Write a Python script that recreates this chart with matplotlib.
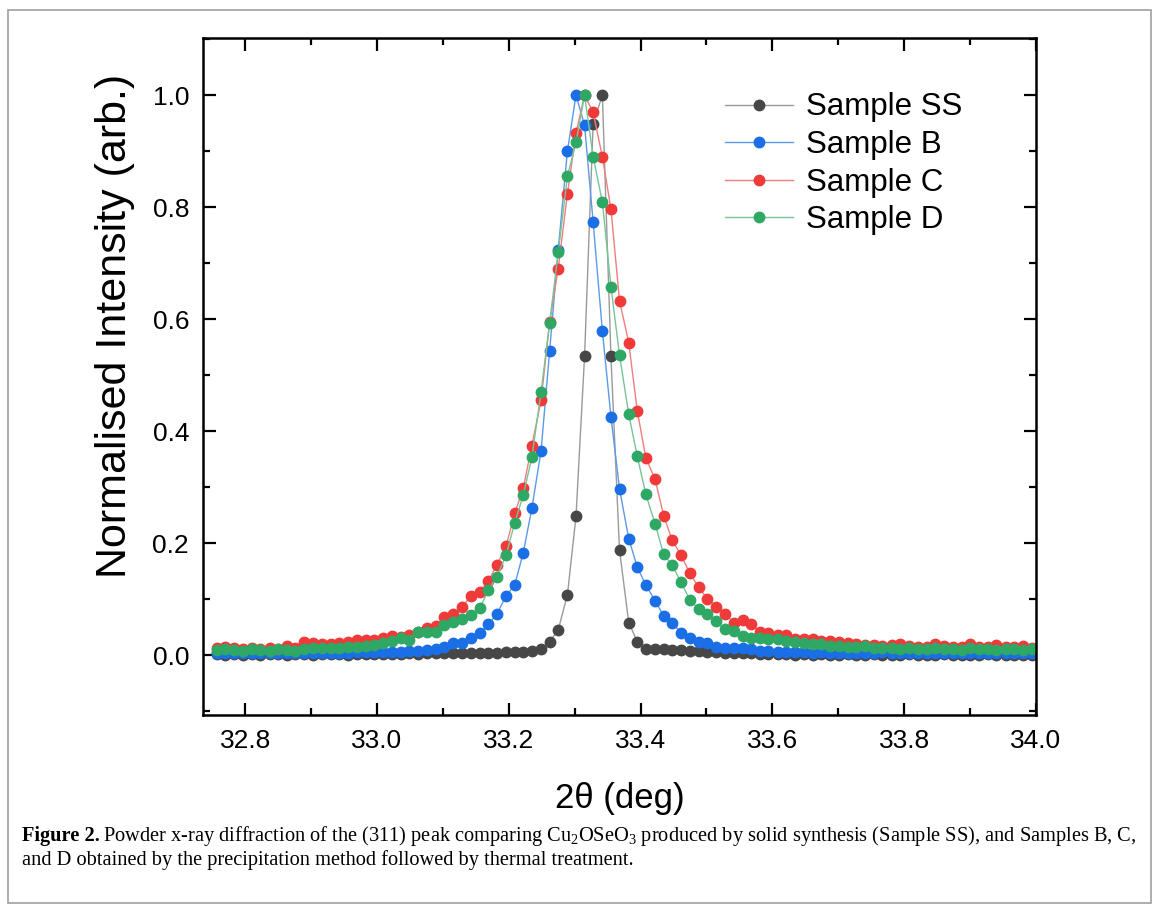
import matplotlib
matplotlib.use("Agg")
import matplotlib.pyplot as plt
from matplotlib.patches import Rectangle
from matplotlib.ticker import MultipleLocator, FormatStrFormatter

plt.rcParams['font.family'] = ['Liberation Sans', 'DejaVu Sans']
plt.rcParams['mathtext.fontset'] = 'custom'
plt.rcParams['mathtext.rm'] = 'Liberation Serif'

# 2theta grid (deg), shared by all samples
two_theta = [
    32.757, 32.770, 32.783, 32.797, 32.810, 32.823, 32.837, 32.850, 32.863, 32.876,
    32.890, 32.903, 32.916, 32.930, 32.943, 32.956, 32.970, 32.983, 32.996, 33.009,
    33.023, 33.036, 33.049, 33.063, 33.076, 33.089, 33.102, 33.116, 33.129, 33.142,
    33.156, 33.169, 33.182, 33.196, 33.209, 33.222, 33.235, 33.249, 33.262, 33.275,
    33.289, 33.302, 33.315, 33.328, 33.342, 33.355, 33.368, 33.382, 33.395, 33.408,
    33.422, 33.435, 33.448, 33.461, 33.475, 33.488, 33.501, 33.515, 33.528, 33.541,
    33.555, 33.568, 33.581, 33.594, 33.608, 33.621, 33.634, 33.648, 33.661, 33.674,
    33.688, 33.701, 33.714, 33.727, 33.741, 33.754, 33.767, 33.781, 33.794, 33.807,
    33.821, 33.834, 33.847, 33.861, 33.874, 33.887, 33.900, 33.914, 33.927, 33.940,
    33.954, 33.967, 33.980, 33.994]

sample_ss = [
    0.002, 0.001, 0.002, 0.001, 0.002, 0.001, 0.002, 0.002, 0.001, 0.002,
    0.002, 0.001, 0.002, 0.002, 0.002, 0.001, 0.002, 0.002, 0.002, 0.002,
    0.002, 0.002, 0.003, 0.002, 0.003, 0.003, 0.003, 0.003, 0.003, 0.003,
    0.004, 0.004, 0.004, 0.005, 0.005, 0.006, 0.007, 0.010, 0.024, 0.045,
    0.108, 0.248, 0.534, 0.949, 1.000, 0.534, 0.188, 0.058, 0.024, 0.011,
    0.010, 0.010, 0.009, 0.009, 0.008, 0.007, 0.006, 0.005, 0.004, 0.003,
    0.003, 0.003, 0.002, 0.002, 0.002, 0.002, 0.001, 0.002, 0.001, 0.002,
    0.001, 0.001, 0.002, 0.001, 0.001, 0.002, 0.001, 0.001, 0.001, 0.002,
    0.001, 0.001, 0.001, 0.002, 0.001, 0.001, 0.001, 0.001, 0.002, 0.001,
    0.001, 0.001, 0.001, 0.001]

sample_b = [
    0.004, 0.003, 0.004, 0.003, 0.004, 0.003, 0.004, 0.003, 0.004, 0.004,
    0.003, 0.004, 0.004, 0.003, 0.004, 0.004, 0.005, 0.005, 0.005, 0.006,
    0.006, 0.006, 0.007, 0.008, 0.009, 0.010, 0.015, 0.021, 0.022, 0.030,
    0.039, 0.055, 0.073, 0.106, 0.125, 0.183, 0.262, 0.365, 0.543, 0.724,
    0.900, 1.000, 0.946, 0.773, 0.579, 0.426, 0.297, 0.208, 0.157, 0.125,
    0.097, 0.070, 0.058, 0.040, 0.030, 0.024, 0.021, 0.014, 0.012, 0.012,
    0.012, 0.010, 0.008, 0.007, 0.006, 0.006, 0.005, 0.005, 0.004, 0.005,
    0.004, 0.004, 0.003, 0.004, 0.004, 0.003, 0.005, 0.004, 0.003, 0.004,
    0.003, 0.004, 0.004, 0.003, 0.004, 0.003, 0.004, 0.003, 0.004, 0.003,
    0.004, 0.003, 0.004, 0.003]

sample_c = [
    0.013, 0.015, 0.012, 0.011, 0.013, 0.011, 0.012, 0.011, 0.016, 0.013,
    0.024, 0.022, 0.020, 0.020, 0.022, 0.024, 0.027, 0.027, 0.027, 0.030,
    0.034, 0.033, 0.036, 0.042, 0.048, 0.052, 0.068, 0.073, 0.085, 0.105,
    0.113, 0.132, 0.161, 0.195, 0.253, 0.298, 0.374, 0.455, 0.594, 0.690,
    0.824, 0.932, 1.000, 0.969, 0.890, 0.797, 0.633, 0.558, 0.436, 0.352,
    0.314, 0.249, 0.205, 0.179, 0.146, 0.121, 0.101, 0.086, 0.074, 0.058,
    0.062, 0.055, 0.042, 0.039, 0.036, 0.036, 0.029, 0.029, 0.029, 0.025,
    0.025, 0.023, 0.022, 0.020, 0.018, 0.018, 0.016, 0.018, 0.019, 0.017,
    0.015, 0.014, 0.019, 0.016, 0.014, 0.015, 0.019, 0.014, 0.015, 0.018,
    0.014, 0.014, 0.016, 0.013]

sample_d = [
    0.009, 0.010, 0.009, 0.008, 0.010, 0.009, 0.008, 0.010, 0.009, 0.008,
    0.011, 0.012, 0.012, 0.013, 0.013, 0.014, 0.014, 0.016, 0.018, 0.021,
    0.025, 0.030, 0.027, 0.042, 0.042, 0.042, 0.053, 0.059, 0.065, 0.072,
    0.084, 0.116, 0.140, 0.179, 0.236, 0.286, 0.353, 0.470, 0.593, 0.719,
    0.855, 0.916, 1.000, 0.890, 0.809, 0.658, 0.536, 0.430, 0.355, 0.287,
    0.234, 0.180, 0.160, 0.131, 0.098, 0.083, 0.074, 0.060, 0.046, 0.043,
    0.034, 0.031, 0.031, 0.029, 0.028, 0.026, 0.024, 0.022, 0.020, 0.019,
    0.017, 0.017, 0.015, 0.014, 0.016, 0.013, 0.012, 0.013, 0.011, 0.012,
    0.010, 0.011, 0.012, 0.010, 0.011, 0.009, 0.012, 0.010, 0.011, 0.009,
    0.010, 0.011, 0.009, 0.010]

labels = ['Sample SS', 'Sample B', 'Sample C', 'Sample D']
marker_colors = ['#474747', '#1a6ee6', '#f03a3a', '#2ea864']
line_colors = ['#9a9a9a', '#5b9ae8', '#f07e7e', '#78c497']

fig = plt.figure(figsize=(11.54, 9.11), dpi=100)
W, H = 1154, 911

# outer frame of the figure panel
fig.patches.append(Rectangle((8 / W, 1 - 903 / H), 1143 / W, 893 / H,
                             transform=fig.transFigure, fill=False,
                             edgecolor='#a0a0a0', linewidth=1.2))

ax = fig.add_axes([203 / W, 1 - 715 / H, 833 / W, 677 / H])

for y, lab, mc, lc in zip([sample_ss, sample_b, sample_c, sample_d],
                          labels, marker_colors, line_colors):
    ax.plot(two_theta, y, '-o', color=lc, lw=1.0, markersize=7.5,
            markerfacecolor=mc, markeredgecolor=mc, label=lab)

ax.set_xlim(32.736, 34.0)
ax.set_ylim(-0.107, 1.102)
ax.xaxis.set_major_locator(MultipleLocator(0.2))
ax.xaxis.set_minor_locator(MultipleLocator(0.1))
ax.yaxis.set_major_locator(MultipleLocator(0.2))
ax.yaxis.set_minor_locator(MultipleLocator(0.1))
ax.xaxis.set_major_formatter(FormatStrFormatter('%.1f'))
ax.yaxis.set_major_formatter(FormatStrFormatter('%.1f'))
ax.tick_params(which='both', direction='in', top=True, right=True, width=1.6)
ax.tick_params(which='major', length=9, labelsize=19, pad=10)
ax.tick_params(which='minor', length=5)
for s in ax.spines.values():
    s.set_linewidth(1.8)

ax.set_xlabel('2θ (deg)', fontsize=25, labelpad=21)
ax.set_ylabel('Normalised Intensity (arb.)', fontsize=31)
ax.yaxis.set_label_coords(-0.082, 0.575)

ax.legend(loc='upper left', bbox_to_anchor=(712 / W, 1 - 80 / H),
          bbox_transform=fig.transFigure, frameon=False, fontsize=22.5,
          handlelength=2.2, handletextpad=0.42, labelspacing=0.24,
          borderaxespad=0)

# caption
cap_size = 14.7
t1 = fig.text(22 / W, 1 - 836 / H, 'Figure 2.', fontsize=cap_size,
              family='Liberation Serif', weight='bold', va='center')
fig.canvas.draw()
bb = t1.get_window_extent()
fig.text((bb.x1 + 3) / W, 1 - 836 / H,
         'Powder x-ray diffraction of the (311) peak comparing Cu$_2$OSeO$_3$ '
         'produced by solid synthesis (Sample SS), and Samples B, C,',
         fontsize=cap_size, family='Liberation Serif', va='center')
fig.text(22 / W, 1 - 860 / H,
         'and D obtained by the precipitation method followed by thermal treatment.',
         fontsize=cap_size, family='Liberation Serif', va='center')

fig.savefig('out.png', dpi=100)
